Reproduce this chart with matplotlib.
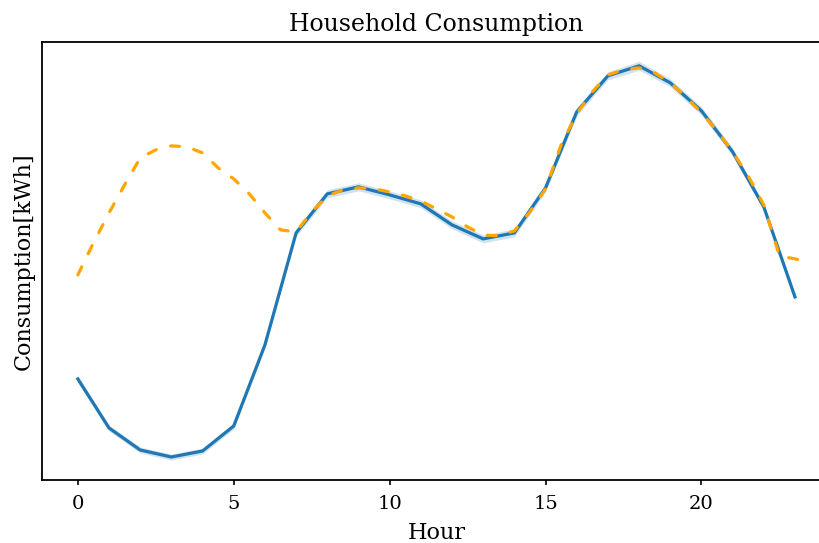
import numpy as np
import matplotlib
matplotlib.use("Agg")
import matplotlib.pyplot as plt

plt.rcParams['font.family'] = 'DejaVu Serif'

hours = list(range(24))
mean_kwh = [0.492, 0.296, 0.208, 0.180, 0.204, 0.304, 0.628, 1.076,
            1.232, 1.260, 1.228, 1.192, 1.108, 1.052, 1.076, 1.256,
            1.560, 1.704, 1.744, 1.676, 1.564, 1.400, 1.180, 0.820]
ci_kwh = [0.014, 0.012, 0.012, 0.012, 0.012, 0.012, 0.012, 0.014,
          0.016, 0.016, 0.016, 0.016, 0.016, 0.016, 0.016, 0.016,
          0.016, 0.016, 0.018, 0.016, 0.016, 0.016, 0.014, 0.012]

half_hours = [h / 2 for h in range(48)]
other_kwh = [0.908, 1.036, 1.156, 1.268, 1.376, 1.408, 1.424, 1.420,
             1.396, 1.336, 1.292, 1.232, 1.156, 1.088, 1.080, 1.160,
             1.224, 1.248, 1.256, 1.252, 1.240, 1.224, 1.204, 1.172,
             1.140, 1.100, 1.068, 1.064, 1.084, 1.160, 1.252, 1.428,
             1.552, 1.640, 1.708, 1.728, 1.736, 1.716, 1.676, 1.620,
             1.556, 1.484, 1.400, 1.304, 1.188, 0.984, 0.972, 0.960]

fig = plt.figure(figsize=(8.2, 5.43), dpi=100)
ax = fig.add_axes([0.0512, 0.116, 0.962, 0.807])

mean = np.array(mean_kwh)
ci = np.array(ci_kwh)
ax.fill_between(hours, mean - ci, mean + ci, color='#1f77b4', alpha=0.2, linewidth=0)
ax.plot(hours, mean, color='#1f77b4', linewidth=2.3)
ax.plot(half_hours, other_kwh, color='orange', linestyle=(0, (2.8, 4.6)),
        linewidth=2.3, dash_capstyle='round')

ax.set_xlim(-1.15, 24.15)
ax.set_ylim(0.088, 1.84)
ax.set_xticks([0, 5, 10, 15, 20])
ax.set_yticks([])
ax.tick_params(axis='x', labelsize=14, length=3.5, width=1.2, pad=7)
for s in ax.spines.values():
    s.set_linewidth(1.3)

ax.set_title('Household Consumption', fontsize=17, pad=8)
ax.set_xlabel('Hour', fontsize=16, labelpad=7)
ax.set_ylabel('Consumption[kWh]', fontsize=16, labelpad=5)

fig.savefig('out.png', dpi=100)
